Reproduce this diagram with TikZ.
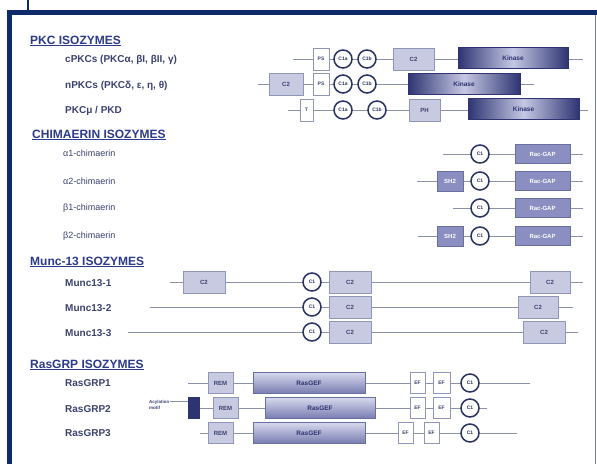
\documentclass[tikz,border=0pt]{standalone}
\usepackage{fontspec}
\setmainfont{Liberation Sans}
\usetikzlibrary{shapes.geometric}
\definecolor{frame}{HTML}{0D2A6A}
\definecolor{head}{HTML}{2B3A8A}
\definecolor{lab}{HTML}{3C4270}
\definecolor{lnc}{HTML}{8C92AC}
\definecolor{cirb}{HTML}{2A3262}
\definecolor{lav}{HTML}{C8CAE2}
\definecolor{lavb}{HTML}{9096BA}
\definecolor{kdark}{HTML}{2E3472}
\definecolor{klight}{HTML}{C4C8E4}
\definecolor{gap}{HTML}{8A8EC0}
\definecolor{gapb}{HTML}{6A6FA2}
\tikzset{
  ln/.style={draw=lnc, line width=1pt},
  hd/.style={anchor=west, inner sep=0, text=head, font=\fontsize{12}{14}\selectfont\bfseries},
  lb/.style={anchor=west, inner sep=0, text=lab, font=\fontsize{10}{12}\selectfont\bfseries},
  lbs/.style={anchor=west, inner sep=0, text=lab, font=\fontsize{9}{11}\selectfont},
  sbox/.style={draw=lavb, fill=white, line width=0.8pt, inner sep=0, text=lab, font=\fontsize{5}{6}\selectfont\bfseries},
  cbox/.style={draw=lavb, fill=lav, line width=0.8pt, inner sep=0, text=lab, font=\fontsize{6}{7}\selectfont\bfseries},
  cir/.style={circle, draw=cirb, fill=white, line width=1.5pt, minimum size=18pt, inner sep=0, text=cirb, font=\fontsize{5}{6}\selectfont\bfseries},
  kin/.style={draw=kdark, line width=0.8pt, left color=kdark, right color=kdark, middle color=klight, inner sep=0, text=kdark, font=\fontsize{6.5}{7}\selectfont\bfseries},
  gapbox/.style={draw=gapb, fill=gap, line width=0.8pt, inner sep=0, text=white, font=\fontsize{6}{7}\selectfont\bfseries},
  gef/.style={draw=gapb, line width=0.8pt, top color=klight!70!white, bottom color=gap!80!kdark, inner sep=0, text=kdark, font=\fontsize{6.5}{7}\selectfont\bfseries},
}
\newcommand{\bx}[7]{% style, name, x1, x2, y, h, text
  \node[#1, minimum width={#4-#3}, minimum height=#6] (#2) at ({(#3+#4)/2},#5) {#7};}
\begin{document}
\begin{tikzpicture}[x=1pt,y=-1pt]
\useasboundingbox (0,0) rectangle (597,464);
\fill[white] (0,0) rectangle (597,464);
% frame
\fill[frame] (7,10) rectangle (597,15);
\fill[frame] (7,10) rectangle (12,464);
\draw[frame, line width=1.2pt] (28,0) -- (28,10);
\draw[frame!60, line width=1pt] (595,15) -- (595,464);

% headers
\node[hd] (hpkc) at (30,41) {\underline{PKC ISOZYMES}};
\node[hd] (hchi) at (32,135) {\underline{CHIMAERIN ISOZYMES}};
\node[hd] (hmun) at (30,262) {\underline{Munc-13 ISOZYMES}};
\node[hd] (hras) at (30,365) {\underline{RasGRP ISOZYMES}};

% labels
\node[lb] (l1) at (65,60) {cPKCs (PKCα, βI, βII, γ)};
\node[lb] (l2) at (65,86) {nPKCs (PKCδ, ε, η, θ)};
\node[lb] (l3) at (65,111) {PKCμ / PKD};
\node[lbs] (l4) at (63,153) {α1-chimaerin};
\node[lbs] (l5) at (63,181) {α2-chimaerin};
\node[lbs] (l6) at (63,208) {β1-chimaerin};
\node[lbs] (l7) at (63,236) {β2-chimaerin};
\node[lb] (l8) at (65,283) {Munc13-1};
\node[lb] (l9) at (65,308) {Munc13-2};
\node[lb] (l10) at (65,333) {Munc13-3};
\node[lb] (l11) at (65,383) {RasGRP1};
\node[lb] (l12) at (65,409) {RasGRP2};
\node[lb] (l13) at (65,433) {RasGRP3};

% ---------- PKC ----------
\coordinate (p1s) at (293,59); \coordinate (p1e) at (583,59);
\coordinate (p2s) at (258,84); \coordinate (p2e) at (534,84);
\coordinate (p3s) at (288,110); \coordinate (p3e) at (588,110);
\draw[ln] (p1s) -- (p1e);
\draw[ln] (p2s) -- (p2e);
\draw[ln] (p3s) -- (p3e);
\bx{sbox}{p1ps}{313}{329}{59}{22}{PS}
\node[cir] (p1ca) at (343,59) {C1a};
\node[cir] (p1cb) at (367,59) {C1b};
\bx{cbox}{p1c2}{393}{434}{59}{22}{C2}
\bx{kin}{p1k}{458}{568}{58}{21}{Kinase}
\bx{cbox}{p2c2}{269}{303}{84}{22}{C2}
\bx{sbox}{p2ps}{313}{329}{84}{22}{PS}
\node[cir] (p2ca) at (343,84) {C1a};
\node[cir] (p2cb) at (367,84) {C1b};
\bx{kin}{p2k}{408}{520}{84}{21}{Kinase}
\bx{sbox}{p3t}{300}{313}{110}{22}{T}
\node[cir] (p3ca) at (343,110) {C1a};
\node[cir] (p3cb) at (377,110) {C1b};
\bx{cbox}{p3ph}{409}{440}{110}{22}{PH}
\bx{kin}{p3k}{468}{579}{109}{21}{Kinase}

% ---------- Chimaerin ----------
\coordinate (c1s) at (443,154); \coordinate (c1e) at (583,154);
\coordinate (c2s) at (417,181); \coordinate (c2e) at (583,181);
\coordinate (c3s) at (453,208); \coordinate (c3e) at (583,208);
\coordinate (c4s) at (418,236); \coordinate (c4e) at (583,236);
\draw[ln] (c1s) -- (c1e);
\draw[ln] (c2s) -- (c2e);
\draw[ln] (c3s) -- (c3e);
\draw[ln] (c4s) -- (c4e);
\node[cir] (c1c) at (480,154) {C1};
\bx{gapbox}{c1g}{515}{570}{154}{19}{Rac-GAP}
\bx{gapbox}{c2sh}{437}{463}{181}{20}{SH2}
\node[cir] (c2c) at (480,181) {C1};
\bx{gapbox}{c2g}{515}{570}{181}{19}{Rac-GAP}
\node[cir] (c3c) at (480,208) {C1};
\bx{gapbox}{c3g}{515}{570}{208}{19}{Rac-GAP}
\bx{gapbox}{c4sh}{437}{463}{236}{20}{SH2}
\node[cir] (c4c) at (480,236) {C1};
\bx{gapbox}{c4g}{515}{570}{236}{19}{Rac-GAP}

% ---------- Munc-13 ----------
\coordinate (m1s) at (170,282); \coordinate (m1e) at (583,282);
\coordinate (m2s) at (150,307); \coordinate (m2e) at (573,307);
\coordinate (m3s) at (128,332); \coordinate (m3e) at (578,332);
\draw[ln] (m1s) -- (m1e);
\draw[ln] (m2s) -- (m2e);
\draw[ln] (m3s) -- (m3e);
\bx{cbox}{m1a}{183}{225}{282}{22}{C2}
\node[cir] (m1c) at (312,282) {C1};
\bx{cbox}{m1b}{329}{371}{282}{22}{C2}
\bx{cbox}{m1d}{530}{570}{282}{22}{C2}
\node[cir] (m2c) at (312,307) {C1};
\bx{cbox}{m2b}{329}{371}{307}{22}{C2}
\bx{cbox}{m2d}{518}{558}{307}{22}{C2}
\node[cir] (m3c) at (312,332) {C1};
\bx{cbox}{m3b}{329}{371}{332}{22}{C2}
\bx{cbox}{m3d}{523}{565}{332}{22}{C2}

% ---------- RasGRP ----------
\coordinate (r1s) at (188,383); \coordinate (r1e) at (530,383);
\coordinate (r3s) at (200,433); \coordinate (r3e) at (517,433);
\coordinate (r2e) at (487,408);
\draw[ln] (r1s) -- (r1e);
\draw[ln] (r3s) -- (r3e);
\bx{cbox}{r1rem}{208}{233}{383}{21}{REM}
\bx{gef}{r1gef}{253}{365}{383}{21}{RasGEF}
\bx{sbox}{r1ef1}{410}{425}{383}{21}{EF}
\bx{sbox}{r1ef2}{433}{450}{383}{21}{EF}
\node[cir] (r1c) at (470,383) {C1};

\node[anchor=west, inner sep=0, align=left, text=lab, font=\fontsize{4.5}{5.5}\selectfont\bfseries] (acyl) at (149,405) {Acylation\\motif};
\fill[kdark] (188,397) rectangle (200,419);
\coordinate (acr) at (194,408);
\coordinate (acw) at (188,401);
\draw[ln] (acyl.north east |- acw) ++(0,0) -- (acw);
\draw[ln] (200,408) -- (r2e);
\bx{cbox}{r2rem}{213}{238}{408}{21}{REM}
\bx{gef}{r2gef}{265}{375}{408}{21}{RasGEF}
\bx{sbox}{r2ef1}{410}{425}{408}{21}{EF}
\bx{sbox}{r2ef2}{433}{450}{408}{21}{EF}
\node[cir] (r2c) at (470,408) {C1};

\bx{cbox}{r3rem}{208}{233}{433}{21}{REM}
\bx{gef}{r3gef}{253}{365}{433}{21}{RasGEF}
\bx{sbox}{r3ef1}{398}{413}{433}{21}{EF}
\bx{sbox}{r3ef2}{424}{439}{433}{21}{EF}
\node[cir] (r3c) at (470,433) {C1};
\end{tikzpicture}
\end{document}
